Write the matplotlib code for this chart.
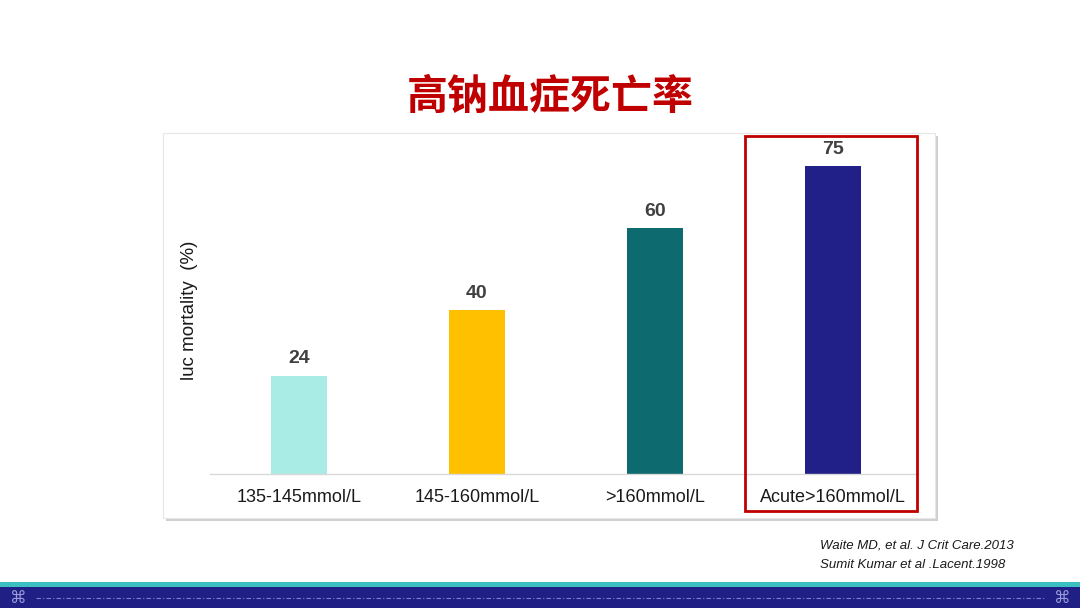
import matplotlib
matplotlib.use('Agg')
import matplotlib.pyplot as plt
from matplotlib.patches import Rectangle

# chart data
categories = ['135-145mmol/L', '145-160mmol/L', '>160mmol/L', 'Acute>160mmol/L']
mortality = [24, 40, 60, 75]
bar_colors = ['#A9EBE5', '#FFC000', '#0D6A6E', '#202088']
title = '高钠血症死亡率'
ylabel = 'luc mortality  (%)'
refs = ['Waite MD, et al. J Crit Care.2013', 'Sumit Kumar et al .Lacent.1998']

W, H = 1080, 608


def fx(x):
    return x / W


def fy(y):
    return 1 - y / H


fig = plt.figure(figsize=(10.8, 6.08), dpi=100)
fig.patch.set_facecolor('white')

# panel with soft shadow
fig.patches.append(Rectangle((fx(166), fy(521)), fx(935 - 163), (521 - 136) / H,
                             transform=fig.transFigure, facecolor='#C4C4C4',
                             edgecolor='none', alpha=0.8, zorder=0))
fig.patches.append(Rectangle((fx(163), fy(518)), fx(935 - 163), (518 - 133) / H,
                             transform=fig.transFigure, facecolor='white',
                             edgecolor='#E6E6E6', linewidth=0.8, zorder=0.5))

# bottom bands
fig.patches.append(Rectangle((0, 0), 1, (608 - 582) / H, transform=fig.transFigure,
                             facecolor='#3BBFC0', edgecolor='none', zorder=1))
fig.patches.append(Rectangle((0, 0), 1, (608 - 587) / H, transform=fig.transFigure,
                             facecolor='#1F1F86', edgecolor='none', zorder=1.1))
fig.lines.append(plt.Line2D([fx(36), fx(1045)], [fy(598), fy(598)], transform=fig.transFigure,
                            color='#7E7EC8', linewidth=0.8, linestyle=(0, (4, 2, 1, 2)), zorder=2))
fig.text(fx(18), fy(598), '\u2318', color='#9A9AD8', fontsize=12, ha='center', va='center',
         family='DejaVu Sans', zorder=3)
fig.text(fx(1062), fy(598), '\u2318', color='#9A9AD8', fontsize=12, ha='center', va='center',
         family='DejaVu Sans', zorder=3)

# title
fig.text(fx(550), fy(97), title, color='#C00000', fontsize=29.5, fontweight='black',
         ha='center', va='center', family=['Noto Sans CJK SC', 'DejaVu Sans'])

# bar chart
ax = fig.add_axes([fx(210), fy(474), fx(918 - 210), (474 - 133) / H])
ax.set_zorder(3)
ax.set_facecolor('none')
xs = range(len(categories))
ax.bar(xs, mortality, width=0.315, color=bar_colors, zorder=2)
for x, v in zip(xs, mortality):
    ax.text(x, v + 2.0, str(v), ha='center', va='bottom', fontsize=14, fontweight='bold',
            color='#404040', family='Liberation Sans')
ax.set_xlim(-0.5, 3.48)
ax.set_ylim(0, 341 / 4.1)
ax.set_xticks(list(xs))
ax.set_xticklabels(categories, fontsize=13, family='Liberation Sans', color='#1A1A1A')
ax.tick_params(axis='x', length=0, pad=11)
ax.set_yticks([])
for s in ['top', 'right', 'left']:
    ax.spines[s].set_visible(False)
ax.spines['bottom'].set_color('#D9D9D9')
ax.spines['bottom'].set_linewidth(1)

fig.text(fx(190), fy(310), ylabel, rotation=90, ha='center', va='center', fontsize=13.5,
         family='Liberation Sans', color='#1A1A1A')

# highlight box around last group
fig.patches.append(Rectangle((fx(745), fy(511)), fx(917 - 745), (511 - 136) / H,
                             transform=fig.transFigure, facecolor='none',
                             edgecolor='#C00000', linewidth=2, zorder=5))

# references
fig.text(fx(820), fy(545), refs[0], fontsize=9.5, style='italic', ha='left', va='center',
         family='Liberation Sans', color='#1A1A1A')
fig.text(fx(820), fy(565), refs[1], fontsize=9.5, style='italic', ha='left', va='center',
         family='Liberation Sans', color='#1A1A1A')

fig.savefig('out.png', dpi=100)
